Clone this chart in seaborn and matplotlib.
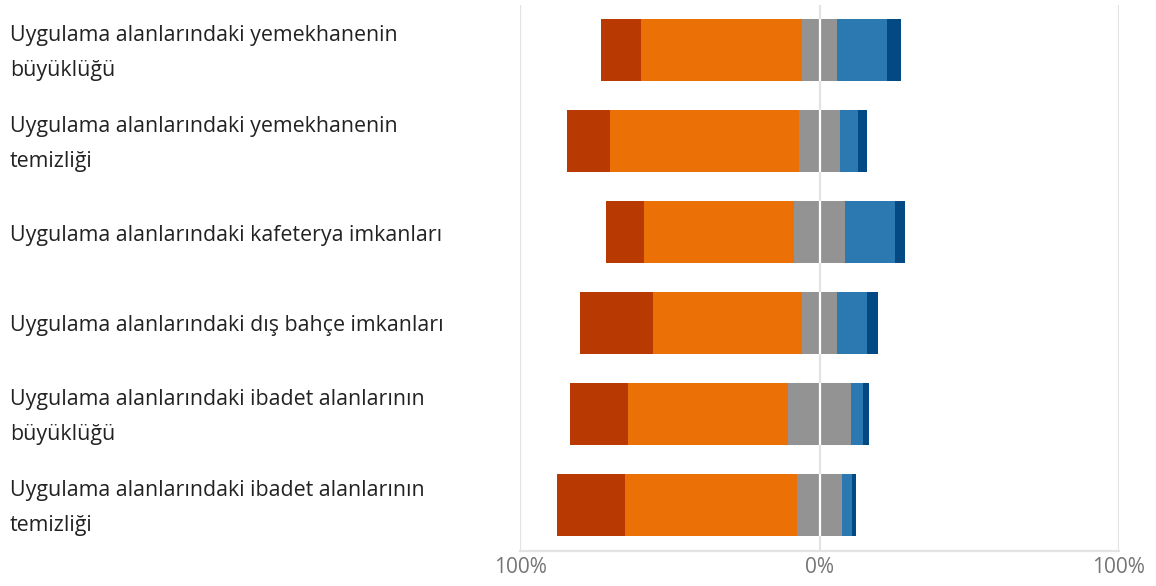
import matplotlib
matplotlib.use("Agg")
import matplotlib.pyplot as plt
import matplotlib.transforms as mtransforms
import seaborn as sns
import numpy as np

# items (top to bottom)
items = [
    "Uygulama alanlarındaki yemekhanenin\nbüyüklüğü",
    "Uygulama alanlarındaki yemekhanenin\ntemizliği",
    "Uygulama alanlarındaki kafeterya imkanları",
    "Uygulama alanlarındaki dış bahçe imkanları",
    "Uygulama alanlarındaki ibadet alanlarının\nbüyüklüğü",
    "Uygulama alanlarındaki ibadet alanlarının\ntemizliği",
]

# percentages per answer level
strongly_disagree = [13.4, 14.3, 13.0, 24.3, 19.4, 22.7]
disagree = [53.7, 63.1, 49.8, 49.7, 53.4, 57.3]
neutral = [12.0, 14.0, 17.3, 12.0, 21.0, 15.3]
agree = [16.7, 5.7, 16.4, 10.0, 4.0, 3.3]
strongly_agree = [4.4, 3.0, 3.6, 3.6, 2.0, 1.3]

colors = {
    "sd": "#B93903",
    "d": "#EB7006",
    "n": "#939393",
    "a": "#2B79B0",
    "sa": "#034A84",
}

sns.set_theme(style="white")
plt.rcParams["font.family"] = ["Open Sans", "DejaVu Sans"]

fig = plt.figure(figsize=(11.56, 5.86), dpi=100)
ax = fig.add_axes([520 / 1156, 1 - 550.5 / 586, 599 / 1156, 546 / 586])

half_n = np.array(neutral) / 2
left_o = half_n + np.array(disagree)
left_sd = left_o + np.array(strongly_disagree)
right_a = half_n + np.array(agree)
right_sa = right_a + np.array(strongly_agree)

bw = 0.68
# draw outermost first so inner segments sit on top
layers = [
    (-left_sd, colors["sd"]),
    (-left_o, colors["d"]),
    (-half_n, colors["n"]),
    (right_sa, colors["sa"]),
    (right_a, colors["a"]),
    (half_n, colors["n"]),
]
for vals, c in layers:
    sns.barplot(x=vals, y=items, orient="h", color=c, width=bw,
                saturation=1, linewidth=0, ax=ax, zorder=2)

# thin white divider at 0% inside the bars
ypos = np.arange(len(items))
ax.vlines(np.zeros(len(items)), ypos - bw / 2, ypos + bw / 2,
          color="white", linewidth=1.6, zorder=3)

ax.set_xlim(-100, 100)
ax.set_ylim(len(items) - 0.5, -0.5)
ax.set_xticks([-100, 0, 100])
ax.set_xticklabels(["100%", "0%", "100%"], fontsize=15, color="#757575")
ax.tick_params(axis="x", length=0, pad=5)
ax.xaxis.grid(True, color="#e3e3e3", linewidth=1.6, zorder=0)
ax.set_axisbelow(True)
ax.set_xlabel("")
ax.set_ylabel("")

for s in ["top", "left", "right"]:
    ax.spines[s].set_visible(False)
ax.spines["bottom"].set_color("#e3e3e3")
ax.spines["bottom"].set_linewidth(1.6)

# category labels, left aligned at the figure edge
ax.set_yticklabels([])
ax.tick_params(axis="y", length=0)
trans = mtransforms.blended_transform_factory(fig.transFigure, ax.transData)
trans = trans + mtransforms.ScaledTranslation(0, -0.03, fig.dpi_scale_trans)
for i, name in enumerate(items):
    ax.text(10 / 1156, i, name, transform=trans, ha="left", va="center",
            fontsize=15.4, color="#222222", linespacing=1.9)

fig.savefig("out.png", dpi=100)
